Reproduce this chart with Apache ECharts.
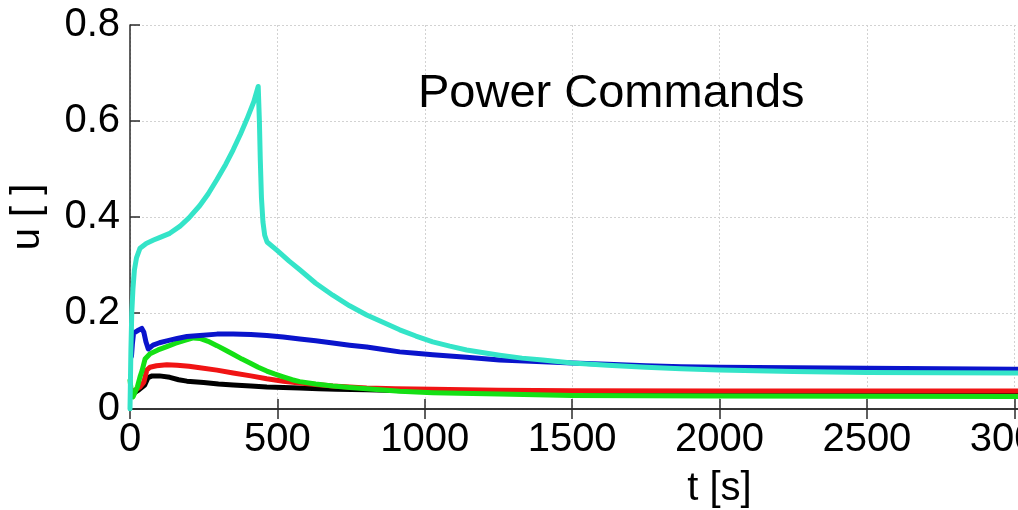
<!DOCTYPE html>
<html>
<head>
<meta charset="utf-8">
<title>Power Commands</title>
<script src="https://cdn.jsdelivr.net/npm/echarts@6/dist/echarts.min.js"></script>
<style>
  html, body { margin: 0; padding: 0; background: #ffffff; }
  #chart { width: 1018px; height: 510px; }
</style>
</head>
<body>
<div id="chart"></div>
<script>
// Time axis [s] and command axis u [ ]
const xTicks = [0, 500, 1000, 1500, 2000, 2500, 3000, 3500, 4000];
const xTickLabels = ['0', '500', '1000', '1500', '2000', '2500', '3000', '3500', '4000'];
const yTicks = [0, 0.2, 0.4, 0.6, 0.8];
const yTickLabels = ['0', '0.2', '0.4', '0.6', '0.8'];

// Power command traces, [t, u]
const cmdBlack = [
  [5, 0.030], [30, 0.040], [50, 0.050], [61, 0.065], [75, 0.069], [100, 0.069],
  [135, 0.066], [165, 0.061], [193, 0.058], [250, 0.055], [300, 0.052], [350, 0.050],
  [410, 0.048], [464, 0.046], [520, 0.045], [576, 0.044], [640, 0.042], [700, 0.041],
  [803, 0.040], [1000, 0.037], [1500, 0.034], [2000, 0.033], [3000, 0.033], [4000, 0.033]
];
const cmdRed = [
  [5, 0.035], [20, 0.040], [34, 0.046], [47, 0.056], [57, 0.081], [68, 0.087],
  [90, 0.090], [125, 0.092], [160, 0.091], [200, 0.089], [237, 0.086], [295, 0.081],
  [350, 0.075], [410, 0.069], [464, 0.063], [520, 0.058], [576, 0.054], [630, 0.051],
  [688, 0.048], [745, 0.046], [803, 0.044], [900, 0.042], [1027, 0.041], [1250, 0.039],
  [1500, 0.038], [2000, 0.0375], [3000, 0.0375], [4000, 0.0375]
];
const cmdGreen = [
  [0, 0.060], [5, 0.035], [10, 0.025], [25, 0.046], [34, 0.067], [41, 0.080],
  [51, 0.104], [68, 0.115], [95, 0.123], [125, 0.130], [155, 0.137], [180, 0.142],
  [215, 0.148], [237, 0.147], [265, 0.141], [295, 0.132], [320, 0.124], [350, 0.114],
  [380, 0.104], [407, 0.096], [435, 0.087], [464, 0.079], [490, 0.073], [520, 0.067],
  [550, 0.061], [576, 0.057], [630, 0.052], [688, 0.048], [745, 0.045], [803, 0.042],
  [915, 0.037], [1027, 0.034], [1254, 0.031], [1500, 0.028], [2000, 0.027],
  [3000, 0.026], [4000, 0.026]
];
const cmdBlue = [
  [5, 0.110], [8, 0.135], [12, 0.158], [25, 0.163], [40, 0.168], [47, 0.160],
  [54, 0.140], [62, 0.125], [78, 0.133], [100, 0.138], [125, 0.142], [160, 0.147],
  [193, 0.151], [237, 0.153], [295, 0.156], [350, 0.156], [410, 0.155], [464, 0.153],
  [520, 0.150], [576, 0.146], [630, 0.142], [688, 0.1375], [745, 0.133], [803, 0.129],
  [860, 0.124], [915, 0.119], [970, 0.116], [1027, 0.113], [1142, 0.108], [1254, 0.102],
  [1380, 0.099], [1500, 0.096], [1620, 0.093], [1750, 0.090], [1870, 0.088],
  [2000, 0.087], [2250, 0.086], [2500, 0.085], [3000, 0.083], [4000, 0.082]
];
const cmdCyan = [
  [0, 0.0], [3, 0.12], [6, 0.20], [10, 0.25], [15, 0.29], [22, 0.315], [34, 0.335],
  [55, 0.345], [80, 0.352], [100, 0.357], [135, 0.366], [170, 0.381], [200, 0.398],
  [237, 0.424], [265, 0.448], [295, 0.478], [325, 0.510], [350, 0.540], [375, 0.573],
  [396, 0.603], [420, 0.640], [435, 0.672], [439, 0.600], [442, 0.520], [446, 0.440],
  [451, 0.390], [457, 0.362], [465, 0.348], [500, 0.330], [540, 0.308], [576, 0.290],
  [630, 0.262], [688, 0.237], [745, 0.215], [803, 0.196], [860, 0.180], [915, 0.165],
  [970, 0.152], [1027, 0.140], [1085, 0.131], [1142, 0.123], [1200, 0.117],
  [1254, 0.112], [1330, 0.106], [1400, 0.102], [1500, 0.096], [1620, 0.091],
  [1750, 0.087], [1870, 0.084], [2000, 0.081], [2250, 0.078], [2500, 0.076],
  [3000, 0.075], [3500, 0.074], [4000, 0.074]
];

const FONT = "'Liberation Sans', Arial, Helvetica, sans-serif";
const AXIS_COLOR = '#2b2b2b';
const GRID_COLOR = '#d2d2d2';

function tickLabel(ticks, labels) {
  return function (v) {
    for (let i = 0; i < ticks.length; i++) {
      if (Math.abs(ticks[i] - v) < 1e-9) return labels[i];
    }
    return '';
  };
}

function line(name, data, color) {
  return {
    name: name,
    type: 'line',
    data: data,
    xAxisIndex: 0,
    yAxisIndex: 0,
    showSymbol: false,
    smooth: false,
    lineStyle: { color: color, width: 5, cap: 'round', join: 'round' },
    emphasis: { disabled: true }
  };
}

const chart = echarts.init(document.getElementById('chart'), null, { renderer: 'canvas' });

chart.setOption({
  animation: false,
  backgroundColor: '#ffffff',
  title: {
    text: 'Power Commands',
    left: 418,
    top: 71,
    padding: 0,
    textStyle: { fontFamily: FONT, fontSize: 47, fontWeight: 'normal', color: '#000' }
  },
  // Plot area runs past the right edge of the canvas (axis spans 0-4000 s)
  grid: {
    left: 130, top: 25, width: 1179, height: 384,
    outerBoundsMode: 'none', containLabel: false
  },
  xAxis: [
    {
      type: 'value',
      min: 0, max: 4000, interval: 500,
      name: 't [s]',
      nameLocation: 'middle',
      nameGap: 60,
      nameTextStyle: { fontFamily: FONT, fontSize: 40, color: '#000' },
      axisLine: { show: true, onZero: false, lineStyle: { color: AXIS_COLOR, width: 1.5 } },
      axisTick: { show: true, inside: true, length: 10, lineStyle: { color: AXIS_COLOR, width: 1.5 } },
      axisLabel: {
        margin: 11, fontFamily: FONT, fontSize: 40, color: '#000',
        formatter: tickLabel(xTicks, xTickLabels)
      },
      splitLine: { show: true, lineStyle: { color: GRID_COLOR, width: 1, type: [2, 2] } }
    },
    {
      type: 'value',
      position: 'top',
      min: 0, max: 4000, interval: 500,
      axisLine: { show: true, lineStyle: { color: AXIS_COLOR, width: 1.5 } },
      axisTick: { show: true, inside: true, length: 10, lineStyle: { color: AXIS_COLOR, width: 1.5 } },
      axisLabel: { show: false },
      splitLine: { show: false }
    }
  ],
  yAxis: [
    {
      type: 'value',
      min: 0, max: 0.8, interval: 0.2,
      name: 'u [ ]',
      nameLocation: 'middle',
      nameRotate: 90,
      nameGap: 82,
      nameTextStyle: { fontFamily: FONT, fontSize: 40, color: '#000' },
      axisLine: { show: true, lineStyle: { color: AXIS_COLOR, width: 1.5 } },
      axisTick: { show: true, inside: true, length: 10, lineStyle: { color: AXIS_COLOR, width: 1.5 } },
      axisLabel: {
        margin: 10, fontFamily: FONT, fontSize: 40, color: '#000',
        formatter: tickLabel(yTicks, yTickLabels)
      },
      splitLine: { show: true, lineStyle: { color: GRID_COLOR, width: 1, type: [2, 2] } }
    }
  ],
  series: [
    line('black', cmdBlack, '#000000'),
    line('red', cmdRed, '#f01414'),
    line('green', cmdGreen, '#14e014'),
    line('blue', cmdBlue, '#0a14cc'),
    line('cyan', cmdCyan, '#34e4c8')
  ]
});
</script>
</body>
</html>
